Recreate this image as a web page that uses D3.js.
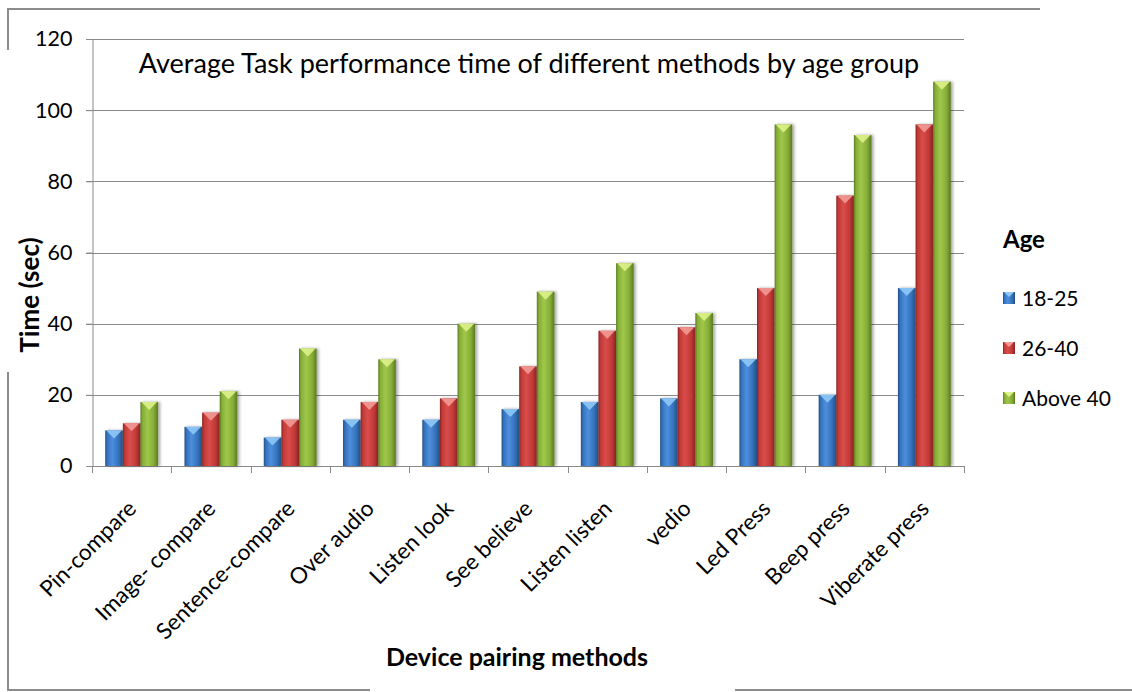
<!DOCTYPE html>
<html>
<head>
<meta charset="utf-8">
<script src="https://cdn.jsdelivr.net/npm/d3@7"></script>
<style>
  html, body { margin: 0; padding: 0; background: #fff; }
  svg { display: block; font-family: Lato, "Open Sans", sans-serif; }
</style>
</head>
<body>
<svg id="chart" width="1132" height="692"></svg>
<script>
// Device pairing methods and the mean task time (seconds) per age group
const categories = ["Pin-compare", "Image- compare", "Sentence-compare", "Over audio", "Listen look",
  "See believe", "Listen listen", "vedio", "Led Press", "Beep press", "Viberate press"];
const seriesNames = ["18-25", "26-40", "Above 40"];
const age18to25 = [10, 11, 8, 13, 13, 16, 18, 19, 30, 20, 50];
const age26to40 = [12, 15, 13, 18, 19, 28, 38, 39, 50, 76, 96];
const ageAbove40 = [18, 21, 33, 30, 40, 49, 57, 43, 96, 93, 108];
const yTicks = [0, 20, 40, 60, 80, 100, 120];

const seriesValues = [age18to25, age26to40, ageAbove40];
const palette = [
  { dark: "#23507f", mid: "#3572bd", light: "#4d8fdc", cap: "#8fc8f7" },
  { dark: "#8a2321", mid: "#c13a38", light: "#d94d4a", cap: "#f29a96" },
  { dark: "#5b7a22", mid: "#86ad37", light: "#9fc84a", cap: "#ddf28a" }
];

const svg = d3.select("#chart");
const plotLeft = 92, plotRight = 964, plotTop = 39, plotBottom = 466;

const x0 = d3.scaleBand().domain(categories).range([plotLeft, plotRight]).paddingInner(1 / 3).paddingOuter(1 / 6);
const x1 = d3.scaleBand().domain(seriesNames).range([0, x0.bandwidth()]);
const y = d3.scaleLinear().domain([0, 120]).range([plotBottom, plotTop]);

const defs = svg.append("defs");
palette.forEach((p, i) => {
  const g = defs.append("linearGradient").attr("id", "bar" + i)
    .attr("x1", "0").attr("x2", "1").attr("y1", "0").attr("y2", "0");
  [[0, p.dark], [0.12, p.mid], [0.4, p.light], [0.75, p.mid], [1, p.dark]].forEach(([o, c]) =>
    g.append("stop").attr("offset", o).attr("stop-color", c));
});
const shadow = defs.append("filter").attr("id", "shadow")
  .attr("x", "-30%").attr("y", "-10%").attr("width", "170%").attr("height", "120%");
shadow.append("feDropShadow").attr("dx", 2).attr("dy", 0).attr("stdDeviation", 1.6)
  .attr("flood-color", "#000").attr("flood-opacity", 0.35);

// frame around the figure
const frame = svg.append("g").attr("fill", "none").attr("stroke", "#8c8c8c").attr("stroke-width", 2);
frame.append("path").attr("d", "M8,50 L8,9 L1040,9");
frame.append("path").attr("d", "M8,372 L8,690 L370,690");
frame.append("path").attr("d", "M735,690 L1132,690");

// horizontal gridlines
svg.append("g").selectAll("line").data(yTicks.filter(t => t > 0)).join("line")
  .attr("x1", plotLeft - 6).attr("x2", plotRight)
  .attr("y1", d => Math.round(y(d)) + 0.5).attr("y2", d => Math.round(y(d)) + 0.5)
  .attr("stroke", "#8a8a8a").attr("stroke-width", 1);

// y axis
const yAxis = svg.append("g").attr("transform", `translate(${plotLeft + 0.5},0)`)
  .call(d3.axisLeft(y).tickValues(yTicks).tickSize(6).tickPadding(14));
yAxis.select(".domain").attr("stroke", "#8a8a8a");
yAxis.selectAll(".tick line").attr("stroke", "#8a8a8a");
yAxis.selectAll(".tick text").attr("font-size", 21.5).attr("fill", "#000")
  .attr("font-family", "Lato, sans-serif");

// x axis with ticks on category boundaries
const boundaries = categories.map(c => x0(c) - x0.step() * x0.paddingInner() / 2)
  .concat([plotRight]);
const xAxisG = svg.append("g");
xAxisG.append("line").attr("x1", plotLeft).attr("x2", plotRight)
  .attr("y1", plotBottom + 0.5).attr("y2", plotBottom + 0.5).attr("stroke", "#8a8a8a");
xAxisG.selectAll("line.tk").data(boundaries).join("line").attr("class", "tk")
  .attr("x1", d => Math.round(d) + 0.5).attr("x2", d => Math.round(d) + 0.5)
  .attr("y1", plotBottom).attr("y2", plotBottom + 7).attr("stroke", "#8a8a8a");

// bars
const groups = svg.append("g").selectAll("g").data(categories).join("g")
  .attr("transform", c => `translate(${x0(c)},0)`);
groups.each(function (c, ci) {
  const g = d3.select(this);
  seriesNames.forEach((s, si) => {
    const v = seriesValues[si][ci];
    const bx = x1(s), bw = x1.bandwidth(), by = y(v), bh = y(0) - y(v);
    g.append("rect").attr("x", bx).attr("y", by).attr("width", bw).attr("height", bh)
      .attr("fill", `url(#bar${si})`).attr("filter", "url(#shadow)");
    // bevelled top
    g.append("polygon")
      .attr("points", [[bx + 1, by], [bx + bw - 1, by], [bx + bw / 2, by + 8]].map(p => p.join(",")).join(" "))
      .attr("fill", palette[si].cap).attr("opacity", 0.9);
  });
});

// category labels
svg.append("g").selectAll("text").data(categories).join("text")
  .attr("transform", c => `translate(${x0(c) + x0.bandwidth() / 2 + 6},${plotBottom + 44}) rotate(-45)`)
  .attr("text-anchor", "end")
  .attr("font-size", 22.5).attr("fill", "#000").text(c => c);

// titles
svg.append("text").attr("x", 529).attr("y", 73).attr("text-anchor", "middle")
  .attr("font-size", 27).attr("fill", "#000")
  .text("Average Task performance time of different methods by age group");
svg.append("text").attr("x", 517).attr("y", 666).attr("text-anchor", "middle")
  .attr("font-size", 25).attr("font-weight", "bold").attr("fill", "#000")
  .text("Device pairing methods");
svg.append("text").attr("transform", "translate(39,295) rotate(-90)").attr("text-anchor", "middle")
  .attr("font-size", 26).attr("font-weight", "bold").attr("fill", "#000")
  .text("Time (sec)");

// legend
const legend = svg.append("g");
legend.append("text").attr("x", 1003).attr("y", 248).attr("font-size", 24)
  .attr("font-weight", "bold").attr("fill", "#000").text("Age");
const items = legend.selectAll("g.item").data(seriesNames).join("g").attr("class", "item")
  .attr("transform", (d, i) => `translate(1003,${298 + i * 50})`);
items.append("rect").attr("x", 0).attr("y", -6).attr("width", 12).attr("height", 12)
  .attr("fill", (d, i) => `url(#bar${i})`);
items.append("polygon").attr("points", "1,-6 11,-6 6,-1")
  .attr("fill", (d, i) => palette[i].cap);
items.append("text").attr("x", 19).attr("y", 0).attr("dy", "0.36em")
  .attr("font-size", 21).attr("fill", "#000").text(d => d);
</script>
</body>
</html>
